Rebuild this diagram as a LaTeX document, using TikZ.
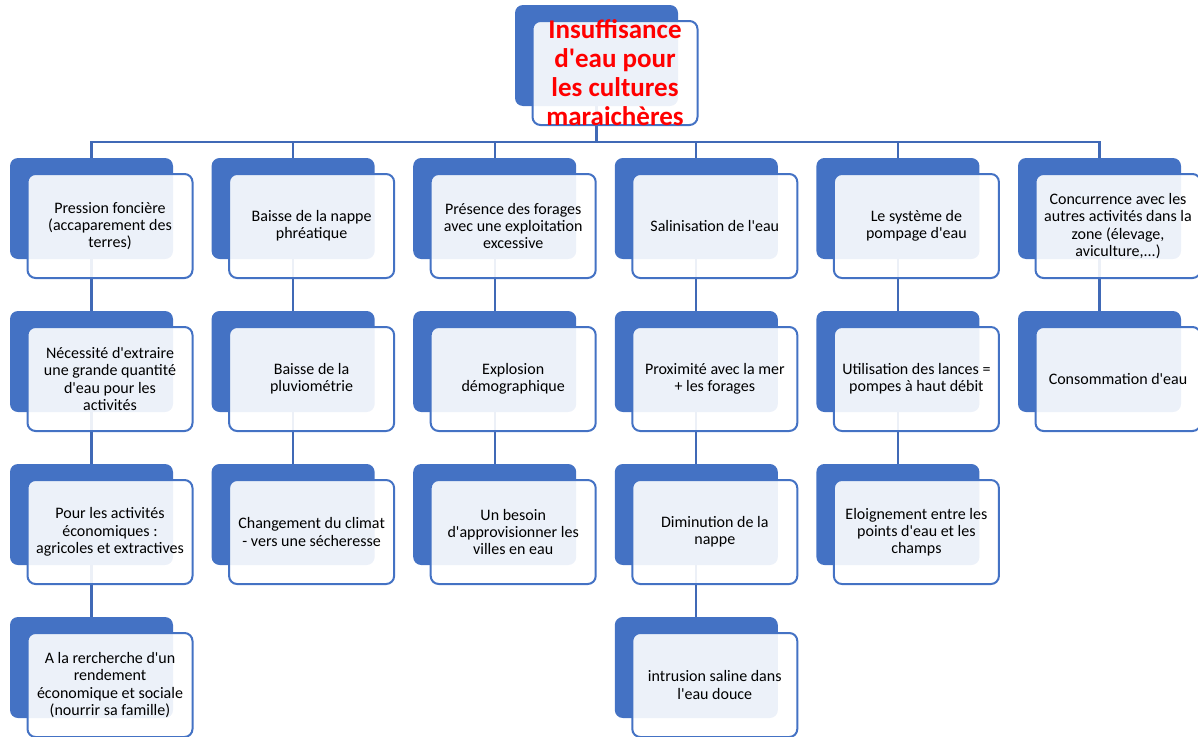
\documentclass[tikz,border=0pt]{standalone}
\usepackage{fontspec}
\setmainfont{Carlito}[Ligatures=TeXOff]
\definecolor{accent}{HTML}{4472C4}
\definecolor{linkblue}{HTML}{4069B6}
\pgfdeclarelayer{links}
\pgfsetlayers{links,main}
\tikzset{
  backbox/.style={rectangle, rounded corners=8pt, fill=accent, inner sep=0pt,
    outer sep=0pt, minimum width=163pt, minimum height=101pt, anchor=north west},
  frontbox/.style={rectangle, rounded corners=8pt, draw=accent, line width=2pt,
    fill=white, fill opacity=0.9, text opacity=1, inner sep=0pt, outer sep=0pt,
    minimum width=165pt, minimum height=104pt, anchor=north west,
    align=center, font=\fontsize{16}{17.2}\selectfont},
  titletext/.style={align=center, text=red, inner sep=0pt,
    font=\fontsize{27}{29}\selectfont\bfseries},
  link/.style={draw=linkblue, line width=2.2pt},
}
% one card: blue plate behind, translucent framed card in front
\newcommand\smartcard[4]{%
  \node[backbox] (#1b) at (#2,#3) {};
  \node[frontbox] (#1) at ({#2+17.5},{#3+16}) {#4};
}
\begin{document}
\begin{tikzpicture}[x=1pt,y=-1pt]
\useasboundingbox (0,0) rectangle (1198,736);

% root
\smartcard{top}{515}{5}{}
\node[titletext] (toptext) at (top.center) {Insuffisance\\d'eau pour\\les cultures\\maraichères};

% column 1
\smartcard{a1}{10}{158}{Pression foncière\\(accaparement des\\terres)}
\smartcard{a2}{10}{311}{Nécessité d'extraire\\une grande quantité\\d'eau pour les\\activités}
\smartcard{a3}{10}{464}{Pour les activités\\économiques :\\agricoles et extractives}
\smartcard{a4}{10}{617}{A la rercherche d'un\\rendement\\économique et sociale\\(nourrir sa famille)}

% column 2
\smartcard{b1}{211.6}{158}{Baisse de la nappe\\phréatique}
\smartcard{b2}{211.6}{311}{Baisse de la\\pluviométrie}
\smartcard{b3}{211.6}{464}{Changement du climat\\- vers une sécheresse}

% column 3
\smartcard{c1}{413.2}{158}{Présence des forages\\avec une exploitation\\excessive}
\smartcard{c2}{413.2}{311}{Explosion\\démographique}
\smartcard{c3}{413.2}{464}{Un besoin\\d'approvisionner les\\villes en eau}

% column 4
\smartcard{d1}{614.8}{158}{Salinisation de l'eau}
\smartcard{d2}{614.8}{311}{Proximité avec la mer\\+ les forages}
\smartcard{d3}{614.8}{464}{Diminution de la\\nappe}
\smartcard{d4}{614.8}{617}{intrusion saline dans\\l'eau douce}

% column 5
\smartcard{e1}{816.4}{158}{Le système de\\pompage d'eau}
\smartcard{e2}{816.4}{311}{Utilisation des lances =\\pompes à haut débit}
\smartcard{e3}{816.4}{464}{Eloignement entre les\\points d'eau et les\\champs}

% column 6
\smartcard{f1}{1018}{158}{Concurrence avec les\\autres activités dans la\\zone (élevage,\\aviculture,...)}
\smartcard{f2}{1018}{311}{Consommation d'eau}

% connectors, kept underneath the cards
\begin{pgfonlayer}{links}
  \coordinate (bus) at (0,142);
  \draw[link] (topb.center) -- (topb.center |- bus);
  \draw[link] (a1b.center) -- (a1b.center |- bus) -- (f1b.center |- bus) -- (f1b.center);
  \foreach \c in {b1,c1,d1,e1}
    \draw[link] (\c b.center |- bus) -- (\c b.center);
  \draw[link] (a1b.center) -- (a2b.center) -- (a3b.center) -- (a4b.center);
  \draw[link] (b1b.center) -- (b2b.center) -- (b3b.center);
  \draw[link] (c1b.center) -- (c2b.center) -- (c3b.center);
  \draw[link] (d1b.center) -- (d2b.center) -- (d3b.center) -- (d4b.center);
  \draw[link] (e1b.center) -- (e2b.center) -- (e3b.center);
  \draw[link] (f1b.center) -- (f2b.center);
\end{pgfonlayer}
\end{tikzpicture}
\end{document}
